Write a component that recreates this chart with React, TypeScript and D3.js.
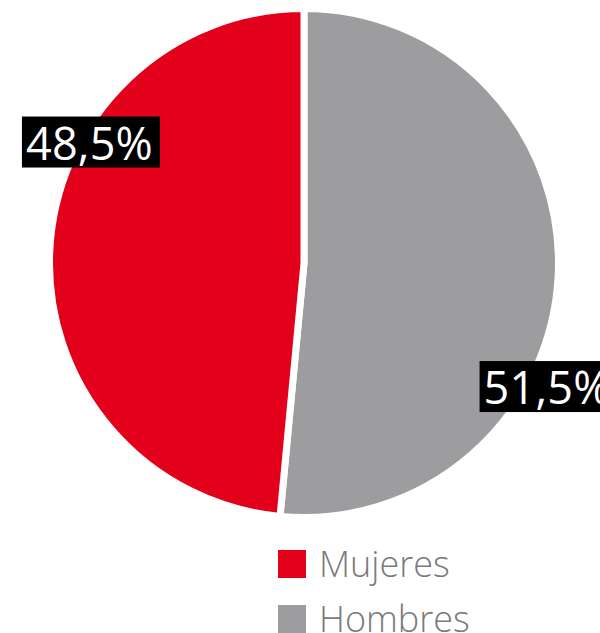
import React, { useEffect, useRef } from 'react';
import * as d3 from 'd3';

const categories = ['Hombres', 'Mujeres'];
const values = [51.5, 48.5];
const labels = ['51,5%', '48,5%'];
const colors = ['#9d9d9f', '#e2001a'];
// where each label sits: fraction along the slice and distance from centre
const labelFraction = [0.63, 0.654];
const labelRadius = [274, 245];
const legendOrder = ['Mujeres', 'Hombres'];

const W = 600;
const H = 633;

const App: React.FC = () => {
  const svgRef = useRef<SVGSVGElement>(null);

  useEffect(() => {
    if (!svgRef.current) return;
    const svg = d3.select(svgRef.current);
    svg.selectAll('*').remove();

    const cx = 304;
    const cy = 263;
    const r = 254.5;

    const pie = d3.pie<number>().sort(null).value(d => d);
    const arcs = pie(values);
    const arc = d3.arc<d3.PieArcDatum<number>>().innerRadius(0).outerRadius(r);

    const g = svg.append('g').attr('transform', `translate(${cx},${cy})`);

    g.selectAll('path')
      .data(arcs)
      .enter()
      .append('path')
      .attr('d', arc)
      .attr('fill', (_, i) => colors[i])
      .attr('stroke', '#fff')
      .attr('stroke-width', 7)
      .attr('stroke-linejoin', 'miter');

    // percentage labels in black boxes
    arcs.forEach((a, i) => {
      const ang = a.startAngle + (a.endAngle - a.startAngle) * labelFraction[i];
      const x = Math.sin(ang) * labelRadius[i];
      const y = -Math.cos(ang) * labelRadius[i];
      const lg = g.append('g').attr('transform', `translate(${x},${y})`);
      lg.append('rect')
        .attr('fill', '#000')
        .attr('x', -69)
        .attr('y', -25.5)
        .attr('width', 138)
        .attr('height', 51);
      lg.append('text')
        .attr('x', -65)
        .attr('dominant-baseline', 'central')
        .attr('fill', '#fff')
        .attr('font-family', '"Open Sans", sans-serif')
        .attr('font-weight', 400)
        .attr('font-size', 45)
        .attr('letter-spacing', 0.2)
        .text(labels[i]);
    });

    // legend
    const legend = svg.append('g').attr('transform', 'translate(278,550)');
    legendOrder.forEach((name, i) => {
      const idx = categories.indexOf(name);
      const row = legend.append('g').attr('transform', `translate(0,${i * 55})`);
      row.append('rect')
        .attr('width', 28)
        .attr('height', 28)
        .attr('fill', colors[idx]);
      row.append('text')
        .attr('x', 41)
        .attr('y', 27)
        .attr('fill', '#7a7a7a')
        .attr('font-family', '"Open Sans", sans-serif')
        .attr('font-weight', 300)
        .attr('font-size', 36)
        .text(name);
    });
  }, []);

  return (
    <svg
      ref={svgRef}
      width={W}
      height={H}
      style={{ position: 'absolute', left: 0, top: 0, display: 'block' }}
    />
  );
};

export default App;
